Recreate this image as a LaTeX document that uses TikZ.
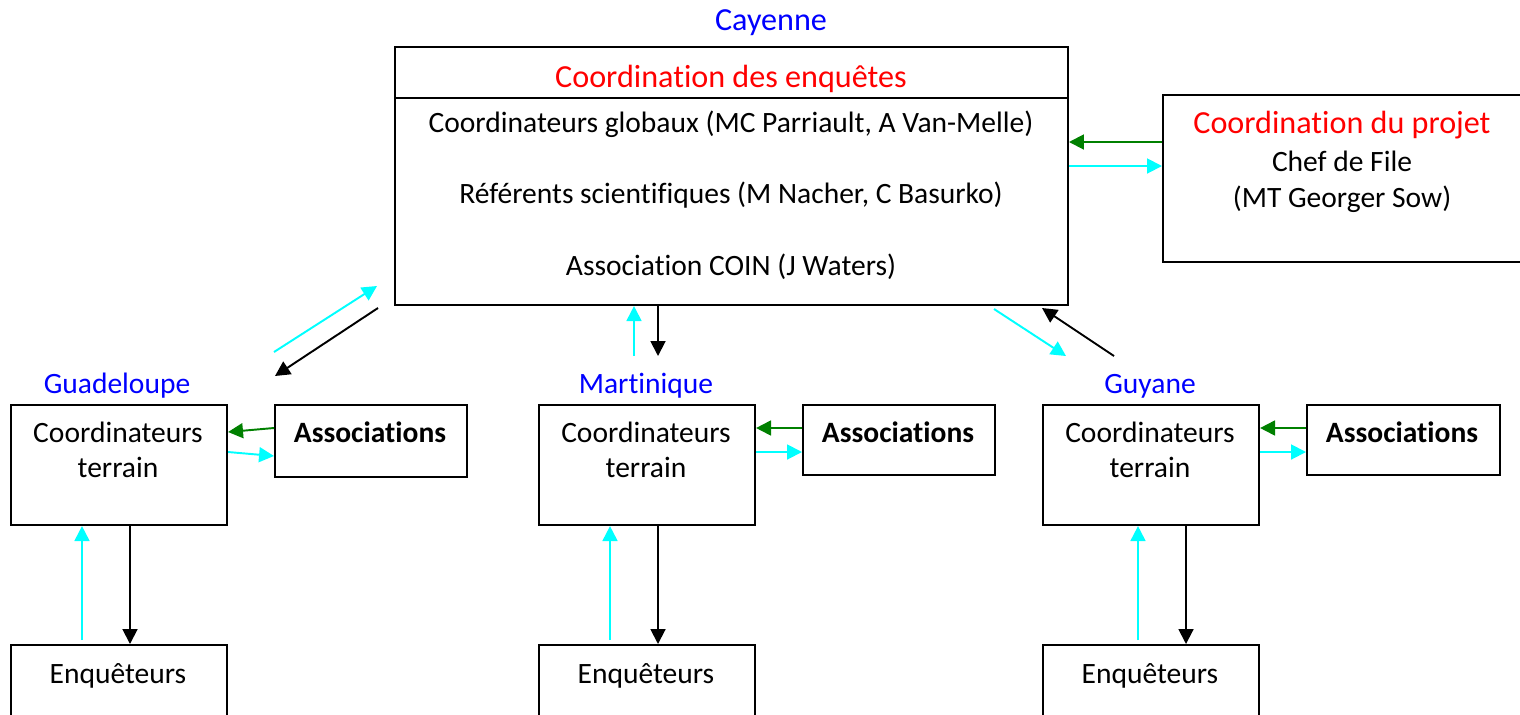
\documentclass[tikz,border=0pt]{standalone}
\usepackage{fontspec}
\setmainfont{Carlito}[Ligatures=NoCommon]
\usetikzlibrary{arrows.meta,calc}
\definecolor{cyanA}{RGB}{0,255,255}
\definecolor{greenA}{RGB}{0,128,0}
\definecolor{blueA}{RGB}{0,0,255}
\definecolor{redA}{RGB}{255,0,0}
\begin{document}
\begin{tikzpicture}[x=0.02cm,y=-0.02cm,
  box/.style={draw,line width=1.2pt,inner sep=0pt,anchor=north west},
  txt/.style={anchor=base,inner sep=0pt,font=\fontsize{16.8}{20.5}\selectfont},
  bigtxt/.style={anchor=base,inner sep=0pt,font=\fontsize{18.3}{22}\selectfont},
  place/.style={txt,text=blueA},
  bigplace/.style={bigtxt,text=blueA},
  head/.style={bigtxt,text=redA},
  bold/.style={txt,font=\fontsize{16.8}{20.5}\selectfont\bfseries},
  conn/.style={line width=1.1pt,-{Triangle[length=8.5pt,width=8.5pt]}},
  blk/.style={conn,black},
  cya/.style={conn,cyanA},
  grn/.style={conn,greenA}]
\useasboundingbox (0,0) rectangle (1520,714);
% boxes
\node[box,minimum width=13.46cm,minimum height=5.16cm] (main) at (394,46) {};
\node[box,minimum width=7.6cm,minimum height=3.34cm] (projet) at (1162,94) {};
\draw[line width=1.2pt] (main.west |- 0,98) coordinate (dl) -- (main.east |- 0,98) coordinate (dr);
\node[box,minimum width=4.32cm,minimum height=2.4cm] (gc) at (10,404) {};
\node[box,minimum width=3.84cm,minimum height=1.44cm] (ga) at (274,404) {};
\node[box,minimum width=4.32cm,minimum height=2cm] (ge) at (10,644) {};
\node[box,minimum width=4.32cm,minimum height=2.4cm] (mc) at (538,404) {};
\node[box,minimum width=3.84cm,minimum height=1.4cm] (ma) at (802,404) {};
\node[box,minimum width=4.32cm,minimum height=2cm] (me) at (538,644) {};
\node[box,minimum width=4.32cm,minimum height=2.4cm] (yc) at (1042,404) {};
\node[box,minimum width=3.86cm,minimum height=1.4cm] (ya) at (1306,404) {};
\node[box,minimum width=4.32cm,minimum height=2cm] (ye) at (1042,644) {};
% texts
\node[bigplace] (tcay) at (771,30) {Cayenne};
\node[head] (tcoord) at (731,87) {Coordination des enquêtes};
\node[txt] (tglob) at (731,132) {Coordinateurs globaux (MC Parriault, A Van-Melle)};
\node[txt] (tref) at (731,203) {Référents scientifiques (M Nacher, C Basurko)};
\node[txt] (tcoin) at (731,275) {Association COIN (J Waters)};
\node[head] (tproj) at (1342,133) {Coordination du projet};
\node[txt] (tchef) at (1342,171) {Chef de File};
\node[txt] (tmt) at (1342,207) {(MT Georger Sow)};
\node[place] (tgua) at (117,393) {Guadeloupe};
\node[place] (tmar) at (646,393) {Martinique};
\node[place] (tguy) at (1150,393) {Guyane};
\foreach \n/\x in {g/118,m/646,y/1150}{
  \node[txt] (\n t1) at (\x,442) {Coordinateurs};
  \node[txt] (\n t2) at (\x,477) {terrain};
  \node[txt] (\n te) at (\x,683) {Enquêteurs};
}
\node[bold] (gat) at (370,442) {Associations};
\node[bold] (mat) at (898,442) {Associations};
\node[bold] (yat) at (1402,442) {Associations};
% project arrows
\draw[grn] (projet.west |- 0,142) -- (main.east |- 0,142);
\draw[cya] (main.east |- 0,166) -- (projet.west |- 0,166);
% Cayenne <-> Guadeloupe
\coordinate (g1) at (274,352);
\coordinate (g2) at (377,286);
\coordinate (g3) at (378,308);
\coordinate (g4) at (275,376);
\draw[cya] (g1) -- (g2);
\draw[blk] (g3) -- (g4);
% Cayenne <-> Martinique
\coordinate (m1) at (634,356);
\coordinate (m2) at (658,356);
\draw[cya] (m1) -- (main.south -| m1);
\draw[blk] (main.south -| m2) -- (m2);
% Cayenne <-> Guyane
\coordinate (y1) at (994,309);
\coordinate (y2) at (1066,356);
\coordinate (y3) at (1114,356);
\coordinate (y4) at (1042,308);
\draw[cya] (y1) -- (y2);
\draw[blk] (y3) -- (y4);
% local arrows
\draw[grn] (ga.west |- 0,428) -- (gc.east |- 0,432);
\draw[cya] (gc.east |- 0,452) -- (ga.west |- 0,456);
\draw[grn] (ma.west |- 0,428) -- (mc.east |- 0,428);
\draw[cya] (mc.east |- 0,452) -- (ma.west |- 0,452);
\draw[grn] (ya.west |- 0,428) -- (yc.east |- 0,428);
\draw[cya] (yc.east |- 0,452) -- (ya.west |- 0,452);
% vertical arrows
\foreach \c/\e/\xa/\xb in {gc/ge/82/130, mc/me/610/658, yc/ye/1138/1186}{
  \draw[cya] ($(\e.north -| \xa,0)+(0,-4)$) -- (\c.south -| \xa,0);
  \draw[blk] (\c.south -| \xb,0) -- (\e.north -| \xb,0);
}
\end{tikzpicture}
\end{document}
